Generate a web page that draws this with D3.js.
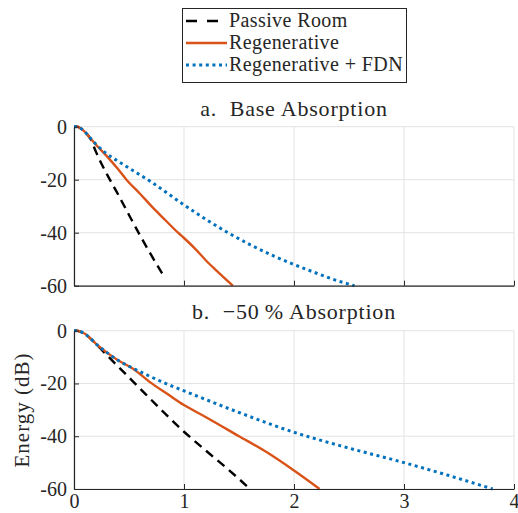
<!DOCTYPE html>
<html>
<head>
<meta charset="utf-8">
<script src="https://cdn.jsdelivr.net/npm/d3@7"></script>
<style>
  body { margin: 0; background: #fff; }
  svg text { font-family: "Liberation Serif", "Times New Roman", Times, "Noto Serif", "DejaVu Serif", serif; fill: #262626; }
</style>
</head>
<body>
<script>
// x axis (time, s) and y axis (energy, dB) ticks
const xTicks = [0, 1, 2, 3, 4]
const yTicks = [0, -20, -40, -60]
const seriesNames = ["Passive Room", "Regenerative", "Regenerative + FDN"]

// a. Base Absorption
const tPassiveA = [0, 0.03, 0.06, 0.1, 0.15, 0.2, 0.25, 0.3, 0.4, 0.5, 0.6, 0.7, 0.825]
const ePassiveA = [0, 0, -0.6, -2, -4.6, -9.5, -14, -18, -25.5, -33.3, -41, -48.3, -57]
const tRegenA = [0, 0.03, 0.06, 0.1, 0.15, 0.2, 0.3, 0.4, 0.477, 0.6, 0.7, 0.8, 0.946, 1.0, 1.1, 1.2, 1.3, 1.444]
const eRegenA = [0, 0, -0.6, -2, -4.4, -6.8, -11.2, -16, -20, -25.3, -29.8, -34, -40, -42, -46, -50.5, -54.5, -60]
const tFdnA = [0, 0.03, 0.06, 0.1, 0.15, 0.2, 0.3, 0.4, 0.5, 0.7, 1.0, 1.2, 1.4, 1.6, 1.8, 2.0, 2.2, 2.4, 2.55]
const eFdnA = [0, 0, -0.6, -2, -4.4, -6.6, -10.3, -13, -15.6, -20.8, -29.5, -35, -40, -44.5, -48.5, -52, -55.2, -58.2, -60]

// b. -50 % Absorption
const tPassiveB = [0, 0.03, 0.06, 0.1, 0.15, 0.2, 0.3, 0.45, 0.6, 0.75, 1.0, 1.2, 1.4, 1.6]
const ePassiveB = [0, 0, -0.4, -1.2, -3, -5, -9.3, -15.6, -21.9, -28.2, -38.3, -45.5, -52.5, -60]
const tRegenB = [0, 0.03, 0.06, 0.1, 0.15, 0.2, 0.3, 0.4, 0.54, 0.69, 0.85, 1.0, 1.2, 1.5, 1.75, 2.0, 2.233]
const eRegenB = [0, 0, -0.4, -1.2, -3, -5, -8.3, -11.2, -14.5, -19.5, -24, -28.2, -32.8, -40, -46, -53, -60]
const tFdnB = [0, 0.03, 0.06, 0.1, 0.15, 0.2, 0.3, 0.4, 0.54, 0.7, 0.85, 1.0, 1.5, 2.0, 2.5, 3.0, 3.4, 3.806]
const eFdnB = [0, 0, -0.4, -1.2, -3, -5, -8.3, -11.2, -14.3, -17.5, -20.3, -22.8, -31, -38.5, -44.5, -50, -54.8, -60]

const width = 518
const height = 513
const serif = "'Liberation Serif', 'Times New Roman', Times, 'Noto Serif', 'DejaVu Serif', serif"

const svg = d3.select("body")
  .append("svg")
  .attr("width", width)
  .attr("height", height)

const myScaleX = d3.scaleLinear()
  .domain([0, 4])
  .range([74, 514])

//one entry per subplot, built from the arrays above
const panels = [
  {title: "a.  Base Absorption", top: 126.7, bottom: 285.7, titleY: 116, xLabels: false,
   series: [[tPassiveA, ePassiveA], [tRegenA, eRegenA], [tFdnA, eFdnA]]},
  {title: "b.  \u221250\u2009% Absorption", top: 330.7, bottom: 489, titleY: 319, xLabels: true,
   series: [[tPassiveB, ePassiveB], [tRegenB, eRegenB], [tFdnB, eFdnB]]}
]

const styles = [
  {color: "#000000", dash: "9,6", width: 2.4},
  {color: "#D95319", dash: null, width: 2.4},
  {color: "#0072BD", dash: "3,3.6", width: 3}
]

panels.forEach(function (p) {
  const myScaleY = d3.scaleLinear()
    .domain([-60, 0])
    .range([p.bottom, p.top])

  const g = svg.append("g")

  //grid lines
  g.append("g")
    .selectAll("line.vgrid")
    .data(xTicks)
    .enter()
    .append("line")
    .attr("x1", d => myScaleX(d)).attr("x2", d => myScaleX(d))
    .attr("y1", p.top).attr("y2", p.bottom)
    .attr("stroke", "#e3e3e3").attr("stroke-width", 1)

  g.append("g")
    .selectAll("line.hgrid")
    .data(yTicks)
    .enter()
    .append("line")
    .attr("x1", myScaleX(0)).attr("x2", myScaleX(4))
    .attr("y1", d => myScaleY(d)).attr("y2", d => myScaleY(d))
    .attr("stroke", "#e3e3e3").attr("stroke-width", 1)

  //title
  g.append("text")
    .text(p.title)
    .attr("x", (myScaleX(0) + myScaleX(4)) / 2)
    .attr("y", p.titleY)
    .attr("text-anchor", "middle")
    .style("font-family", serif)
    .style("font-size", "22px")
    .style("letter-spacing", "0.8px")
    .style("white-space", "pre")

  //curves
  const line = d3.line()
    .x(d => myScaleX(d[0]))
    .y(d => myScaleY(d[1]))
    .curve(d3.curveMonotoneX)

  p.series.forEach(function (s, i) {
    const pts = s[0].map((t, k) => [t, s[1][k]])
    g.append("path")
      .datum(pts)
      .attr("d", line)
      .attr("fill", "none")
      .attr("stroke", styles[i].color)
      .attr("stroke-width", styles[i].width)
      .attr("stroke-dasharray", styles[i].dash)
  })

  //axes, ticks pointing inwards
  const yAxis = d3.axisLeft(myScaleY)
    .tickValues(yTicks)
    .tickSize(-5)
    .tickSizeOuter(0)
    .tickPadding(7)
    .tickFormat(d => String(d))

  const xAxis = d3.axisBottom(myScaleX)
    .tickValues(xTicks)
    .tickSize(-5)
    .tickSizeOuter(0)
    .tickPadding(5)
    .tickFormat(p.xLabels ? d3.format("d") : "")

  const ya = g.append("g")
    .attr("transform", "translate(" + myScaleX(0) + ",0)")
    .call(yAxis)
  const xa = g.append("g")
    .attr("transform", "translate(0," + p.bottom + ")")
    .call(xAxis)

  ;[ya, xa].forEach(function (a) {
    a.attr("font-family", null).attr("font-size", null)
    a.select(".domain").attr("stroke", "#262626").attr("stroke-width", 1.2)
    a.selectAll(".tick line").attr("stroke", "#262626")
    a.selectAll(".tick text")
      .style("font-family", serif)
      .style("font-size", "20px")
      .attr("fill", "#262626")
  })
})

//y label
svg.append("text")
  .text("Energy (dB)")
  .attr("transform", "translate(29,410) rotate(-90)")
  .attr("text-anchor", "middle")
  .style("font-family", serif)
  .style("font-size", "21px")
  .style("letter-spacing", "1px")

//legend
const legend = svg.append("g")
legend.append("rect")
  .attr("x", 182.5).attr("y", 8.5)
  .attr("width", 224).attr("height", 74)
  .attr("fill", "#fff")
  .attr("stroke", "#262626").attr("stroke-width", 1)

seriesNames.forEach(function (name, i) {
  const yy = 21 + i * 22
  legend.append("line")
    .attr("x1", 186).attr("x2", 227)
    .attr("y1", yy).attr("y2", yy)
    .attr("stroke", styles[i].color)
    .attr("stroke-width", styles[i].width)
    .attr("stroke-dasharray", i == 0 ? "11,10,11,20" : styles[i].dash)
  legend.append("text")
    .text(name)
    .attr("x", 229)
    .attr("y", yy + 6)
    .style("font-family", serif)
    .style("font-size", "20px")
    .style("letter-spacing", "0.4px")
})
</script>
</body>
</html>
